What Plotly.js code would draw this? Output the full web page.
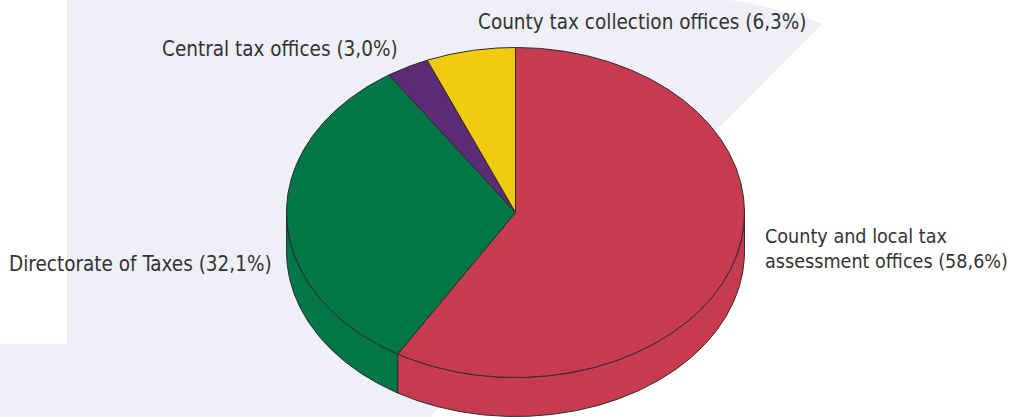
<!DOCTYPE html>
<html>
<head>
<meta charset="utf-8">
<script src="https://cdn.plot.ly/plotly-3.0.1.min.js"></script>
<style>html,body{margin:0;padding:0;background:#fff;}#chart{width:1017px;height:417px;}</style>
</head>
<body>
<div id="chart"></div>
<script>
// ---- data ----
const categories = ['County and local tax<br>assessment offices', 'Directorate of Taxes', 'Central tax offices', 'County tax collection offices'];
const values = [58.6, 32.1, 3.0, 6.3];
const colors = ['#c73a50', '#027646', '#5e2c77', '#f1cb0f'];

// ---- geometry (layout only) ----
const W = 1017, H = 417;
const cx = 515.5, cy = 212.5, rx = 229, ry = 165, depth = 39;
const total = values.reduce((a, b) => a + b, 0);

function pt(deg, dz) {
  const r = deg * Math.PI / 180;
  return [cx + rx * Math.cos(r), cy - ry * Math.sin(r) + (dz || 0)];
}
function arc(a0, a1, dz) {
  const n = Math.max(2, Math.ceil(Math.abs(a1 - a0) / 0.5));
  const out = [];
  for (let i = 0; i <= n; i++) out.push(pt(a0 + (a1 - a0) * i / n, dz));
  return out;
}

const sideTraces = [], topTraces = [];
let start = 90;
values.forEach((v, i) => {
  const a0 = start, a1 = start - v / total * 360;
  start = a1;
  const pts = [[cx, cy]].concat(arc(a0, a1, 0)).concat([[cx, cy]]);
  topTraces.push({
    type: 'scatter', mode: 'lines', fill: 'toself', fillcolor: colors[i],
    x: pts.map(p => p[0]), y: pts.map(p => p[1]),
    line: {color: '#2b2b2b', width: 1}, hoverinfo: 'skip', name: categories[i]
  });
  [[-180, 0], [-540, -360]].forEach(([lo, hi]) => {
    const s = Math.min(a0, hi), e = Math.max(a1, lo);
    if (s > e) {
      const topArc = arc(s, e, 0);
      const botArc = arc(e, s, depth);
      const sp = topArc.concat(botArc).concat([topArc[0]]);
      sideTraces.push({
        type: 'scatter', mode: 'lines', fill: 'toself', fillcolor: colors[i],
        x: sp.map(p => p[0]), y: sp.map(p => p[1]),
        line: {color: '#2b2b2b', width: 1}, hoverinfo: 'skip'
      });
    }
  });
});

function fmt(v) { return v.toFixed(1).replace('.', ','); }
const labelText = categories.map((c, i) => c + ' (' + fmt(values[i]) + '%)');

const font = {family: 'DejaVu Sans Condensed, DejaVu Sans, sans-serif', size: 20.5, color: '#333333'};
const fontSmall = Object.assign({}, font, {size: 19.6});
const annotations = [
  {x: 763, y: 248.5, xanchor: 'left', yanchor: 'middle', align: 'left', text: labelText[0], font: fontSmall},
  {x: 274, y: 264, xanchor: 'right', yanchor: 'middle', text: labelText[1]},
  {x: 400, y: 49, xanchor: 'right', yanchor: 'middle', text: labelText[2]},
  {x: 476, y: 22, xanchor: 'left', yanchor: 'middle', text: labelText[3]}
].map(a => Object.assign({xref: 'x', yref: 'y', showarrow: false, font: font}, a));

const layout = {
  width: W, height: H,
  margin: {l: 0, r: 0, t: 0, b: 0},
  paper_bgcolor: '#ffffff', plot_bgcolor: 'rgba(0,0,0,0)',
  showlegend: false,
  xaxis: {range: [0, W], visible: false, fixedrange: true},
  yaxis: {range: [H, 0], visible: false, fixedrange: true},
  shapes: [{
    type: 'path', xref: 'x', yref: 'y', layer: 'below',
    path: 'M67,0 L730,0 Q780,8 822,24 L430,417 L0,417 L0,344 L67,344 Z',
    fillcolor: '#eeeff7', line: {width: 0}
  }],
  annotations: annotations
};

Plotly.newPlot('chart', sideTraces.concat(topTraces), layout, {staticPlot: true, displayModeBar: false});
</script>
</body>
</html>
